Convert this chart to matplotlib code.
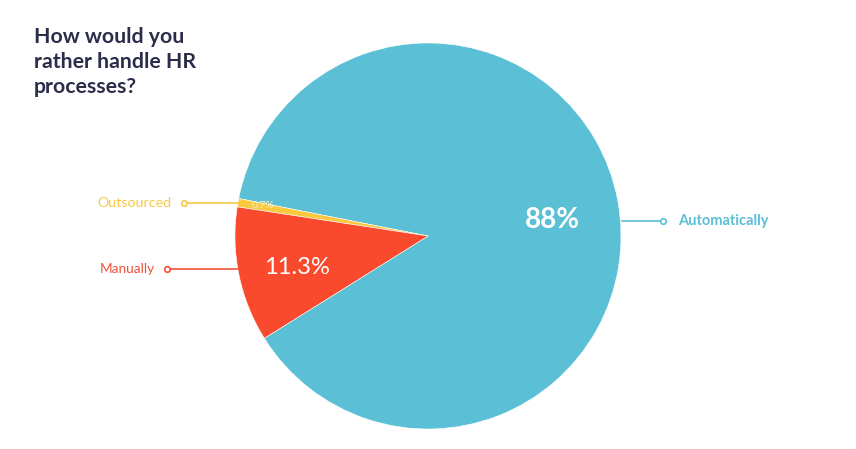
import matplotlib
matplotlib.use("Agg")
import matplotlib.pyplot as plt

categories = ["Automatically", "Outsourced", "Manually"]
values = [88.0, 0.7, 11.3]
pct_labels = ["88%", "0.7%", "11.3%"]
colors = ["#5bbfd6", "#fbc93d", "#fa4a2e"]
label_colors = ["#5bbfd6", "#f7c948", "#f0503a"]
title = "How would you\nrather handle HR\nprocesses?"

W, H = 856, 449
fig = plt.figure(figsize=(W / 100, H / 100), dpi=100)
ax = fig.add_axes([0, 0, 1, 1])

cx, cy, r = 428, H - 236, 193
wedges, _ = ax.pie(values, colors=colors, startangle=212, counterclock=True,
                   center=(cx, cy), radius=r, frame=True,
                   wedgeprops=dict(linewidth=0.4, edgecolor="white"))
ax.set_xlim(0, W)
ax.set_ylim(0, H)
ax.axis("off")

fam = ["Lato", "DejaVu Sans"]
# percentage labels
ax.text(552, H - 220, pct_labels[0], color="white", fontsize=20, fontweight="bold",
        ha="center", va="center", family=fam)
ax.text(297, H - 268, pct_labels[2], color="white", fontsize=17,
        ha="center", va="center", family=fam)
ax.text(263, H - 205, pct_labels[1], color="#fff2c0", fontsize=7.5,
        ha="center", va="center", family=fam)

# leader lines and labels
lines = [
    (categories[0], 622, 663, 221, 678, "left", label_colors[0], 10.5),
    (categories[1], 241, 184, 203, 172, "right", label_colors[1], 10.3),
    (categories[2], 237, 167, 269, 155, "right", label_colors[2], 9.8),
]
for name, x0, x1, y, tx, ha, c, fs in lines:
    ax.plot([x0, x1], [H - y, H - y], color=c, lw=1.2)
    ax.plot([x1], [H - y], marker="o", ms=4, mfc="white", mec=c, mew=1.2)
    ax.text(tx, H - y, name, color=c, fontsize=fs, ha=ha, va="center",
            family=fam, fontweight="bold" if name == "Automatically" else "normal")

fig.text(34 / W, 1 - 27 / H, title, color="#2b2d4a", fontsize=15.3, fontweight="bold",
         ha="left", va="top", family=fam, linespacing=1.32)

fig.savefig("out.png", dpi=100, facecolor="white")
